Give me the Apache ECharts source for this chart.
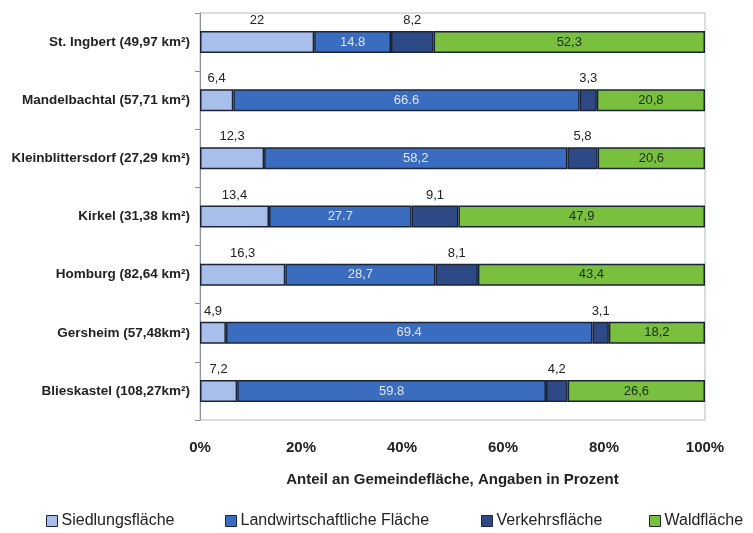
<!DOCTYPE html>
<html><head><meta charset="utf-8">
<script src="https://cdn.jsdelivr.net/npm/echarts@6/dist/echarts.min.js"></script>
<style>html,body{margin:0;padding:0;background:#fff}#c{width:753px;height:533px}</style>
</head><body><div id="c"></div>
<script>
const categories = ["St. Ingbert (49,97 km²)","Mandelbachtal (57,71 km²)","Kleinblittersdorf (27,29 km²)","Kirkel (31,38 km²)","Homburg (82,64 km²)","Gersheim (57,48km²)","Blieskastel (108,27km²)"];
const seriesNames = ["Siedlungsfläche","Landwirtschaftliche Fläche","Verkehrsfläche","Waldfläche"];
const siedlung = [22, 6.4, 12.3, 13.4, 16.3, 4.9, 7.2];
const landwirtschaft = [14.8, 66.6, 58.2, 27.7, 28.7, 69.4, 59.8];
const verkehr = [8.2, 3.3, 5.8, 9.1, 8.1, 3.1, 4.2];
const wald = [52.3, 20.8, 20.6, 47.9, 43.4, 18.2, 26.6];
const landwirtschaftLabels = ["14.8","66.6","58,2","27.7","28,7","69.4","59.8"];
const xTicks = ["0%","20%","40%","60%","80%","100%"];

const FONT = '"Liberation Sans",Arial,sans-serif';
const raw = [siedlung, landwirtschaft, verkehr, wald];
const totals = categories.map((_, i) => raw.reduce((s, arr) => s + arr[i], 0));
const fmt = v => String(v).replace('.', ',');
const colors = ['#a8bfec','#3a6cc0','#2e4a86','#78c03e'];
const legendLeft = [46, 225, 481, 649];

function mk(idx, labelCfg, labelTexts) {
  return {
    name: seriesNames[idx], type: 'bar', stack: 'all', barWidth: 22,
    itemStyle: { color: colors[idx], borderColor: '#1b2436', borderWidth: 1.5 },
    label: Object.assign({ show: true, fontFamily: FONT, fontSize: 13,
      formatter: p => labelTexts ? labelTexts[p.dataIndex] : fmt(raw[idx][p.dataIndex]) }, labelCfg),
    data: raw[idx].map((v, i) => v / totals[i] * 100)
  };
}

const chart = echarts.init(document.getElementById('c'), null, { renderer: 'canvas' });
chart.setOption({
  animation: false,
  textStyle: { fontFamily: FONT },
  grid: { left: 200, right: 48, top: 13, bottom: 113, show: true, borderColor: '#b4b8c4', borderWidth: 1 },
  legend: seriesNames.map((n, i) => ({
    top: 513, left: legendLeft[i], padding: 0, itemGap: 0, itemWidth: 11, itemHeight: 11, icon: 'rect',
    itemStyle: { borderColor: '#1b2436', borderWidth: 1 },
    textStyle: { fontFamily: FONT, fontSize: 16, color: '#222', padding: [0, 0, 0, -1] }, data: [n]
  })),
  xAxis: {
    type: 'value', min: 0, max: 100, interval: 20,
    axisLine: { show: false }, axisTick: { show: false }, splitLine: { show: false },
    axisLabel: { margin: 20, fontFamily: FONT, fontSize: 15, fontWeight: 'bold', color: '#222',
      formatter: v => xTicks[Math.round(v / 20)] },
    name: 'Anteil an Gemeindefläche, Angaben in Prozent', nameLocation: 'middle', nameGap: 52,
    nameTextStyle: { fontFamily: FONT, fontSize: 15, fontWeight: 'bold', color: '#222' }
  },
  yAxis: {
    type: 'category', inverse: true, data: categories,
    axisLine: { lineStyle: { color: '#8c909c', width: 1 } },
    axisTick: { show: true, length: 5, lineStyle: { color: '#8c909c' } },
    axisLabel: { margin: 10, fontFamily: FONT, fontSize: 13.5, fontWeight: 'bold', color: '#222' }
  },
  series: [
    mk(0, { position: 'top', distance: 4, color: '#222' }),
    mk(1, { position: 'inside', color: '#dfe7f6' }, landwirtschaftLabels),
    mk(2, { position: 'top', distance: 4, color: '#222' }),
    mk(3, { position: 'inside', color: '#1c2a12' })
  ]
});
</script></body></html>
